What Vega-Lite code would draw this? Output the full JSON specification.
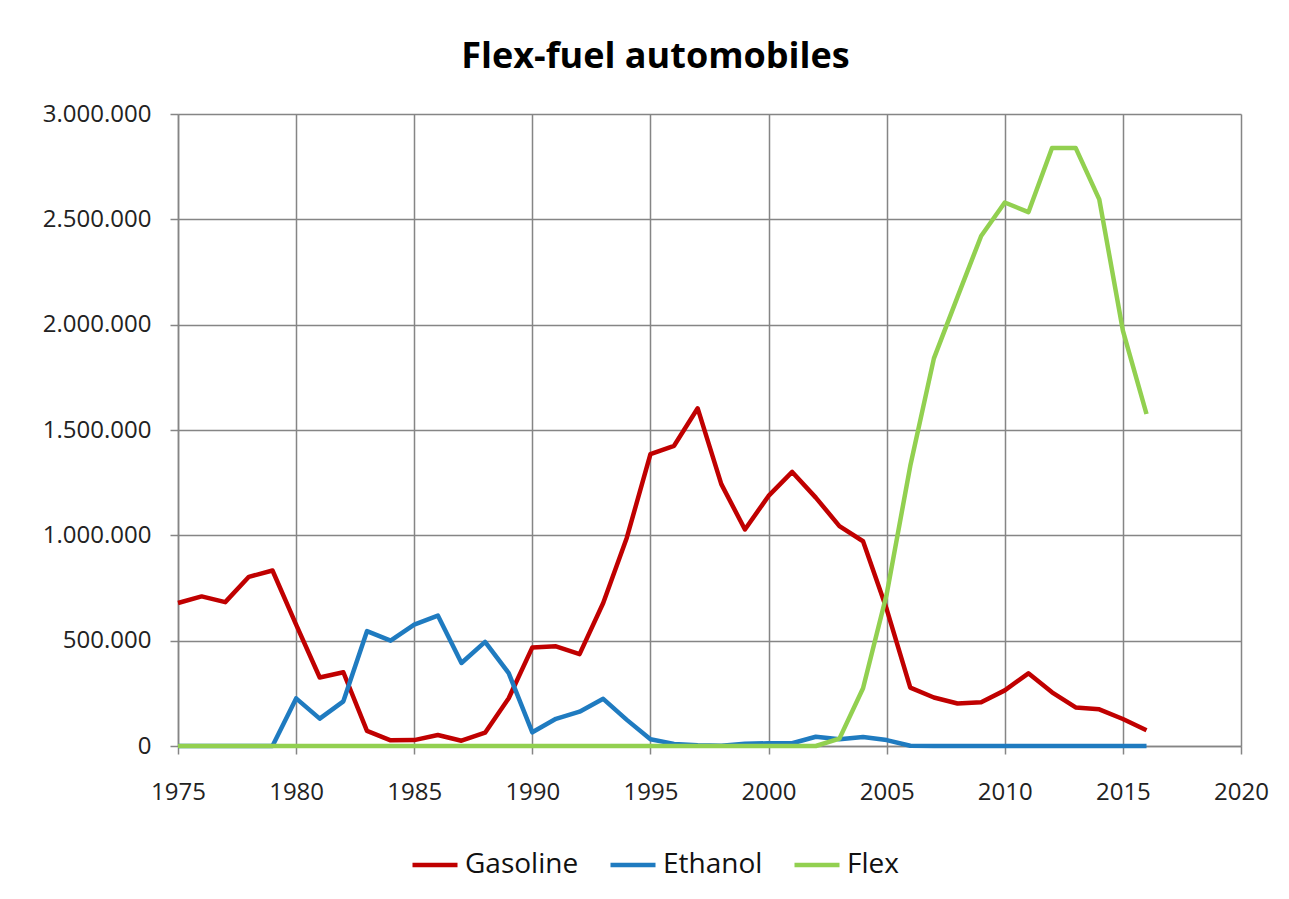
{
  "$schema": "https://vega.github.io/schema/vega-lite/v6.json",
  "width": 1063,
  "height": 632,
  "autosize": "none",
  "padding": {"left": 178, "top": 114, "right": 48, "bottom": 153},
  "background": "white",
  "config": {
    "locale": {"number": {"decimal": ",", "thousands": ".", "grouping": [3], "currency": ["", ""]}},
    "view": {"stroke": null}
  },
  "title": {
    "text": "Flex-fuel automobiles",
    "font": "Open Sans",
    "fontSize": 36,
    "fontWeight": "bold",
    "color": "#000000",
    "anchor": "middle",
    "dx": -54,
    "offset": 26
  },
  "data": {
    "values": [
      {"year": 1975, "Gasoline": 679000, "Ethanol": 0, "Flex": 0},
      {"year": 1976, "Gasoline": 710000, "Ethanol": 0, "Flex": 0},
      {"year": 1977, "Gasoline": 683000, "Ethanol": 0, "Flex": 0},
      {"year": 1978, "Gasoline": 803000, "Ethanol": 0, "Flex": 0},
      {"year": 1979, "Gasoline": 833000, "Ethanol": 0, "Flex": 0},
      {"year": 1980, "Gasoline": 576000, "Ethanol": 226000, "Flex": 0},
      {"year": 1981, "Gasoline": 325000, "Ethanol": 130000, "Flex": 0},
      {"year": 1982, "Gasoline": 350000, "Ethanol": 212000, "Flex": 0},
      {"year": 1983, "Gasoline": 72000, "Ethanol": 545000, "Flex": 0},
      {"year": 1984, "Gasoline": 27000, "Ethanol": 500000, "Flex": 0},
      {"year": 1985, "Gasoline": 28000, "Ethanol": 576000, "Flex": 0},
      {"year": 1986, "Gasoline": 52000, "Ethanol": 619000, "Flex": 0},
      {"year": 1987, "Gasoline": 25000, "Ethanol": 394000, "Flex": 0},
      {"year": 1988, "Gasoline": 63000, "Ethanol": 494000, "Flex": 0},
      {"year": 1989, "Gasoline": 227000, "Ethanol": 346000, "Flex": 0},
      {"year": 1990, "Gasoline": 468000, "Ethanol": 65000, "Flex": 0},
      {"year": 1991, "Gasoline": 473000, "Ethanol": 129000, "Flex": 0},
      {"year": 1992, "Gasoline": 436000, "Ethanol": 163000, "Flex": 0},
      {"year": 1993, "Gasoline": 679000, "Ethanol": 224000, "Flex": 0},
      {"year": 1994, "Gasoline": 989000, "Ethanol": 124000, "Flex": 0},
      {"year": 1995, "Gasoline": 1385000, "Ethanol": 32000, "Flex": 0},
      {"year": 1996, "Gasoline": 1425000, "Ethanol": 10000, "Flex": 0},
      {"year": 1997, "Gasoline": 1603000, "Ethanol": 3000, "Flex": 0},
      {"year": 1998, "Gasoline": 1243000, "Ethanol": 1000, "Flex": 0},
      {"year": 1999, "Gasoline": 1028000, "Ethanol": 11000, "Flex": 0},
      {"year": 2000, "Gasoline": 1187000, "Ethanol": 13000, "Flex": 0},
      {"year": 2001, "Gasoline": 1301000, "Ethanol": 13000, "Flex": 0},
      {"year": 2002, "Gasoline": 1179000, "Ethanol": 44000, "Flex": 0},
      {"year": 2003, "Gasoline": 1044000, "Ethanol": 32000, "Flex": 35000},
      {"year": 2004, "Gasoline": 972000, "Ethanol": 43000, "Flex": 274000},
      {"year": 2005, "Gasoline": 650000, "Ethanol": 28000, "Flex": 720000},
      {"year": 2006, "Gasoline": 277000, "Ethanol": 1000, "Flex": 1330000},
      {"year": 2007, "Gasoline": 230000, "Ethanol": 0, "Flex": 1840000},
      {"year": 2008, "Gasoline": 202000, "Ethanol": 0, "Flex": 2132000},
      {"year": 2009, "Gasoline": 208000, "Ethanol": 0, "Flex": 2421000},
      {"year": 2010, "Gasoline": 264000, "Ethanol": 0, "Flex": 2580000},
      {"year": 2011, "Gasoline": 345000, "Ethanol": 0, "Flex": 2534000},
      {"year": 2012, "Gasoline": 255000, "Ethanol": 0, "Flex": 2839000},
      {"year": 2013, "Gasoline": 183000, "Ethanol": 0, "Flex": 2839000},
      {"year": 2014, "Gasoline": 174000, "Ethanol": 0, "Flex": 2595000},
      {"year": 2015, "Gasoline": 128000, "Ethanol": 0, "Flex": 1972000},
      {"year": 2016, "Gasoline": 75000, "Ethanol": 0, "Flex": 1576000}
    ]
  },
  "transform": [
    {"fold": ["Gasoline", "Ethanol", "Flex"], "as": ["series", "value"]}
  ],
  "mark": {"type": "line", "strokeWidth": 4.5, "strokeJoin": "round"},
  "encoding": {
    "x": {
      "field": "year",
      "type": "quantitative",
      "scale": {"domain": [1975, 2020], "nice": false, "zero": false},
      "axis": {
        "title": null,
        "values": [1975, 1980, 1985, 1990, 1995, 2000, 2005, 2010, 2015, 2020],
        "format": "d",
        "grid": true,
        "gridColor": "#858585",
        "gridWidth": 1.5,
        "domainColor": "#858585",
        "domainWidth": 1.5,
        "tickColor": "#858585",
        "tickWidth": 1.5,
        "tickSize": 8,
        "labelFlush": false,
        "labelOverlap": false,
        "labelFont": "Open Sans",
        "labelFontSize": 24,
        "labelColor": "#222222",
        "labelPadding": 26
      }
    },
    "y": {
      "field": "value",
      "type": "quantitative",
      "scale": {"domain": [0, 3000000], "nice": false},
      "axis": {
        "title": null,
        "values": [0, 500000, 1000000, 1500000, 2000000, 2500000, 3000000],
        "format": ",d",
        "grid": true,
        "gridColor": "#858585",
        "gridWidth": 1.5,
        "domainColor": "#858585",
        "domainWidth": 1.5,
        "tickColor": "#858585",
        "tickWidth": 1.5,
        "tickSize": 8,
        "labelFlush": false,
        "labelOverlap": false,
        "labelFont": "Open Sans",
        "labelFontSize": 24,
        "labelColor": "#222222",
        "labelPadding": 19
      }
    },
    "color": {
      "field": "series",
      "type": "nominal",
      "sort": ["Gasoline", "Ethanol", "Flex"],
      "scale": {"domain": ["Gasoline", "Ethanol", "Flex"], "range": ["#C00000", "#1F7BC0", "#92D050"]},
      "legend": {
        "title": null,
        "orient": "none",
        "direction": "horizontal",
        "legendX": 232,
        "legendY": 726,
        "padding": 0,
        "symbolType": "stroke",
        "symbolSize": 2025,
        "symbolStrokeWidth": 4.5,
        "labelFont": "Open Sans",
        "labelFontSize": 28,
        "labelColor": "#111111",
        "labelOffset": 5,
        "columnPadding": 22
      }
    }
  }
}
